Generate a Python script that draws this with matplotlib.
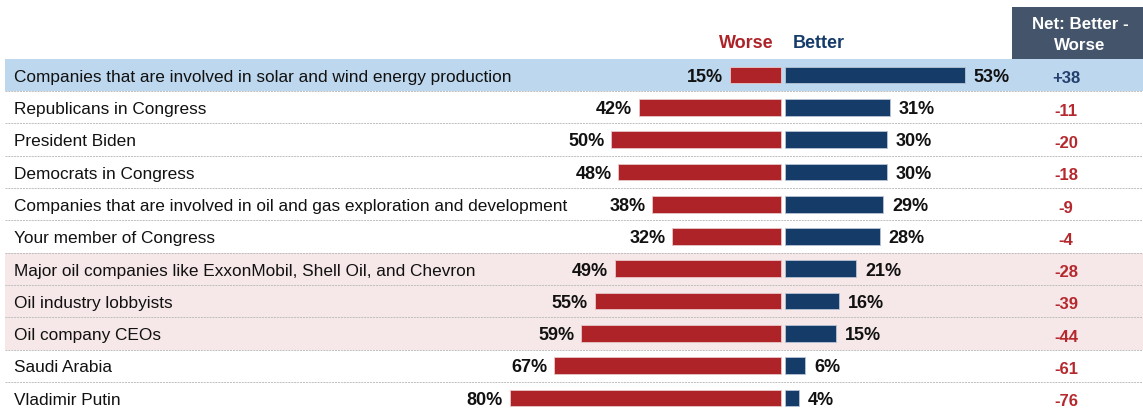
import matplotlib.pyplot as plt
from matplotlib.patches import Rectangle

plt.rcParams['font.family'] = ['Liberation Sans', 'DejaVu Sans']

labels = [
    'Companies that are involved in solar and wind energy production',
    'Republicans in Congress',
    'President Biden',
    'Democrats in Congress',
    'Companies that are involved in oil and gas exploration and development',
    'Your member of Congress',
    'Major oil companies like ExxonMobil, Shell Oil, and Chevron',
    'Oil industry lobbyists',
    'Oil company CEOs',
    'Saudi Arabia',
    'Vladimir Putin',
]
worse = [15, 42, 50, 48, 38, 32, 49, 55, 59, 67, 80]
better = [53, 31, 30, 30, 29, 28, 21, 16, 15, 6, 4]
net = ['+38', '-11', '-20', '-18', '-9', '-4', '-28', '-39', '-44', '-61', '-76']
blue_rows = [0]
pink_rows = [6, 7, 8]

RED = '#AD2328'
BLUE = '#153B68'
NET_BLUE = '#24406E'
NET_RED = '#B5282D'
HEAD = '#44546A'

# scale: ~3.39 px per percentage point, zero line at x=783 px
px = 3.39
x0 = 783
pitch = 32.3
y0 = 75

def dx(p):
    return (p - x0) / px

def dy(p):
    return (p - y0) / pitch

fig = plt.figure(figsize=(11.43, 4.08), dpi=100)
ax = fig.add_axes([0, 0, 1, 1])
ax.set_xlim(dx(0), dx(1143))
ax.set_ylim(dy(408), dy(0))
ax.axis('off')

left_edge = dx(5)
right_edge = dx(1143)
n = len(labels)

for i in blue_rows:
    ax.add_patch(Rectangle((left_edge, i - 0.5), right_edge - left_edge, 1,
                           color='#BDD7EE', zorder=0, lw=0))
for i in pink_rows:
    ax.add_patch(Rectangle((left_edge, i - 0.5), right_edge - left_edge, 1,
                           color='#F6E7E8', zorder=0, lw=0))

for i in range(n - 1):
    ax.plot([left_edge, right_edge], [i + 0.5, i + 0.5], color='#BDBDBD',
            lw=0.7, ls=(0, (2, 1)), zorder=1)

gap = 0.6
ax.barh(range(n), [-w for w in worse], left=-gap, height=0.52, color=RED,
        edgecolor='#E8C8C8', lw=0.6, zorder=2)
ax.barh(range(n), better, left=gap, height=0.52, color=BLUE,
        edgecolor='#B8C4D4', lw=0.6, zorder=2)

off = 0.07
for i in range(n):
    ax.text(dx(14), i + off, labels[i], ha='left', va='center', fontsize=12.4,
            color='#111111')
    ax.text(-worse[i] - gap - 2.0, i + off, f'{worse[i]}%', ha='right', va='center',
            fontsize=13, fontweight='bold', color='#111111')
    ax.text(better[i] + gap + 2.6, i + off, f'{better[i]}%', ha='left', va='center',
            fontsize=13, fontweight='bold', color='#111111')
    c = NET_BLUE if net[i].startswith('+') else NET_RED
    ax.text(dx(1066), i + 0.12, net[i], ha='center', va='center', fontsize=12,
            fontweight='bold', color=c)

ax.text(dx(774), dy(43), 'Worse', ha='right', va='center', fontsize=13,
        fontweight='bold', color=RED)
ax.text(dx(793), dy(43), 'Better', ha='left', va='center', fontsize=13,
        fontweight='bold', color=BLUE)

ax.add_patch(Rectangle((dx(1012), dy(59)), dx(1143) - dx(1012), dy(7) - dy(59),
                       color=HEAD, lw=0, zorder=1))
ax.text(dx(1080), dy(35), 'Net: Better -\nWorse', ha='center', va='center',
        fontsize=12.2, fontweight='bold', color='white', linespacing=1.45)

fig.savefig('out.png', dpi=100)
